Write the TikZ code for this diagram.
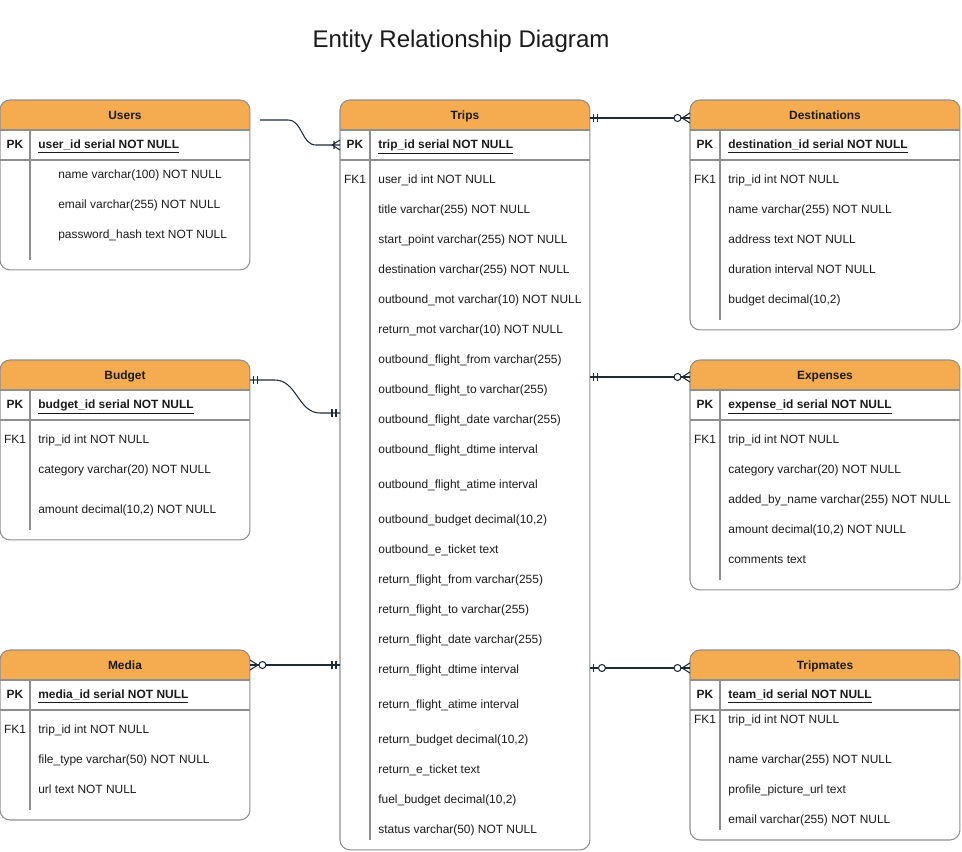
\documentclass[tikz,border=0pt]{standalone}
\usepackage{fontspec}
\setmainfont{Liberation Sans}
\usetikzlibrary{calc,decorations.markings}
\definecolor{hdrorange}{HTML}{F5AC50}
\definecolor{boxgray}{HTML}{8E8E8E}
\definecolor{linkcol}{HTML}{1E2A36}
\definecolor{inkcol}{HTML}{1A1A1A}
\tikzset{
entitybox/.style={draw=boxgray,line width=.6pt,fill=white,rounded corners=.2cm,anchor=north west,inner sep=0pt,outer sep=0pt,
  path picture={
    \fill[hdrorange,sharp corners](path picture bounding box.north west) rectangle ([yshift=-.6cm]path picture bounding box.north east);
    \draw[boxgray,line width=.6pt]([yshift=-.6cm]path picture bounding box.north west)--([yshift=-.6cm]path picture bounding box.north east);
    \draw[boxgray,line width=.6pt]([yshift=-1.2cm]path picture bounding box.north west)--([yshift=-1.2cm]path picture bounding box.north east);
    \draw[boxgray,line width=.6pt]([xshift=.6cm,yshift=-.6cm]path picture bounding box.north west)--([xshift=.6cm,yshift=.2cm]path picture bounding box.south west);
  }},
headtext/.style={font=\bfseries\fontsize{6.8}{8}\selectfont,text=inkcol,inner sep=0pt,text height=1.6ex,text depth=.6ex},
pklabel/.style={font=\bfseries\fontsize{6.8}{8}\selectfont,text=inkcol,inner sep=0pt,text height=1.6ex,text depth=.95ex},
fklabel/.style={font=\fontsize{6.8}{8}\selectfont,text=inkcol,inner sep=0pt,text height=1.6ex,text depth=.95ex},
keytext/.style={font=\bfseries\fontsize{6.8}{8}\selectfont,text=inkcol,anchor=west,inner sep=0pt,text height=1.6ex,text depth=.95ex},
attr/.style={font=\fontsize{6.8}{8}\selectfont,text=inkcol,anchor=west,inner sep=0pt,text height=1.6ex,text depth=.95ex},
rel/.style={draw=linkcol,line width=.6pt},
mandone start/.style={postaction={decorate,decoration={markings,mark=at position 0 with {\draw[linkcol,line width=.6pt](4,-4)--(4,4)(8,-4)--(8,4);}}}},
mandone end/.style={postaction={decorate,decoration={markings,mark=at position 1 with {\draw[linkcol,line width=.6pt](-4,-4)--(-4,4)(-8,-4)--(-8,4);}}}},
zeromany start/.style={postaction={decorate,decoration={markings,mark=at position 0 with {\draw[linkcol,line width=.6pt](8,0)--(0,5)(8,0)--(0,-5);\draw[linkcol,line width=.6pt,fill=white](12.5,0)circle[radius=.07cm];}}}},
zeromany end/.style={postaction={decorate,decoration={markings,mark=at position 1 with {\draw[linkcol,line width=.6pt](-8,0)--(0,5)(-8,0)--(0,-5);\draw[linkcol,line width=.6pt,fill=white](-12.5,0)circle[radius=.07cm];}}}},
zeroone start/.style={postaction={decorate,decoration={markings,mark=at position 0 with {\draw[linkcol,line width=.6pt](4,-4)--(4,4);\draw[linkcol,line width=.6pt,fill=white](12,0)circle[radius=.07cm];}}}},
onemany end/.style={postaction={decorate,decoration={markings,mark=at position 1 with {\draw[linkcol,line width=.6pt](-8,0)--(0,5)(-8,0)--(0,-5)(-6,-4)--(-6,4);}}}}
}
\begin{document}
\begin{tikzpicture}[x=.02cm,y=-.02cm]
\useasboundingbox (0,0) rectangle (962,851);
\node[font=\fontsize{13.7}{16}\selectfont,text=inkcol](title) at (461,41){Entity Relationship Diagram};
% tables
\node[entitybox,minimum width=5cm,minimum height=3.4cm](users) at (0,100){};
\node[entitybox,minimum width=5cm,minimum height=15cm](trips) at (340,100){};
\node[entitybox,minimum width=5.4cm,minimum height=4.6cm](dest) at (690,100){};
\node[entitybox,minimum width=5cm,minimum height=3.6cm](budget) at (0,360){};
\node[entitybox,minimum width=5.4cm,minimum height=4.6cm](expenses) at (690,360){};
\node[entitybox,minimum width=5cm,minimum height=3.4cm](media) at (0,650){};
\node[entitybox,minimum width=5.4cm,minimum height=3.8cm](mates) at (690,650){};
% users
\node[headtext](usersT) at ($(users.north)+(0,15)$){Users};
\node[pklabel](usersPK) at ($(users.north west)+(15,45)$){PK};
\node[keytext](usersK) at ($(users.north west)+(38,45)$){\underline{user\_id serial NOT NULL}};
\foreach \y/\t [count=\i] in {75/name varchar(100) NOT NULL,105/email varchar(255) NOT NULL,135/password\_hash text NOT NULL}
  \node[attr](users-\i) at ($(users.north west)+(58,\y)$){\t};
% trips
\node[headtext](tripsT) at ($(trips.north)+(0,15)$){Trips};
\node[pklabel](tripsPK) at ($(trips.north west)+(15,45)$){PK};
\node[keytext](tripsK) at ($(trips.north west)+(38,45)$){\underline{trip\_id serial NOT NULL}};
\node[fklabel](tripsFK) at ($(trips.north west)+(15,80)$){FK1};
\foreach \y/\t [count=\i] in {80/user\_id int NOT NULL,110/title varchar(255) NOT NULL,140/start\_point varchar(255) NOT NULL,
  170/destination varchar(255) NOT NULL,200/outbound\_mot varchar(10) NOT NULL,230/return\_mot varchar(10) NOT NULL,
  260/outbound\_flight\_from varchar(255),290/outbound\_flight\_to varchar(255),320/outbound\_flight\_date varchar(255),
  350/outbound\_flight\_dtime interval,385/outbound\_flight\_atime interval,420/{outbound\_budget decimal(10,2)},
  450/outbound\_e\_ticket text,480/return\_flight\_from varchar(255),510/return\_flight\_to varchar(255),
  540/return\_flight\_date varchar(255),570/return\_flight\_dtime interval,605/return\_flight\_atime interval,
  640/{return\_budget decimal(10,2)},670/return\_e\_ticket text,700/{fuel\_budget decimal(10,2)},730/status varchar(50) NOT NULL}
  \node[attr](trips-\i) at ($(trips.north west)+(38,\y)$){\t};
% destinations
\node[headtext](destT) at ($(dest.north)+(0,15)$){Destinations};
\node[pklabel](destPK) at ($(dest.north west)+(15,45)$){PK};
\node[keytext](destK) at ($(dest.north west)+(38,45)$){\underline{destination\_id serial NOT NULL}};
\node[fklabel](destFK) at ($(dest.north west)+(15,80)$){FK1};
\foreach \y/\t [count=\i] in {80/trip\_id int NOT NULL,110/name varchar(255) NOT NULL,140/address text NOT NULL,
  170/duration interval NOT NULL,200/{budget decimal(10,2)}}
  \node[attr](dest-\i) at ($(dest.north west)+(38,\y)$){\t};
% budget
\node[headtext](budgetT) at ($(budget.north)+(0,15)$){Budget};
\node[pklabel](budgetPK) at ($(budget.north west)+(15,45)$){PK};
\node[keytext](budgetK) at ($(budget.north west)+(38,45)$){\underline{budget\_id serial NOT NULL}};
\node[fklabel](budgetFK) at ($(budget.north west)+(15,80)$){FK1};
\foreach \y/\t [count=\i] in {80/trip\_id int NOT NULL,110/category varchar(20) NOT NULL,150/{amount decimal(10,2) NOT NULL}}
  \node[attr](budget-\i) at ($(budget.north west)+(38,\y)$){\t};
% expenses
\node[headtext](expensesT) at ($(expenses.north)+(0,15)$){Expenses};
\node[pklabel](expensesPK) at ($(expenses.north west)+(15,45)$){PK};
\node[keytext](expensesK) at ($(expenses.north west)+(38,45)$){\underline{expense\_id serial NOT NULL}};
\node[fklabel](expensesFK) at ($(expenses.north west)+(15,80)$){FK1};
\foreach \y/\t [count=\i] in {80/trip\_id int NOT NULL,110/category varchar(20) NOT NULL,
  140/added\_by\_name varchar(255) NOT NULL,170/{amount decimal(10,2) NOT NULL},200/comments text}
  \node[attr](expenses-\i) at ($(expenses.north west)+(38,\y)$){\t};
% media
\node[headtext](mediaT) at ($(media.north)+(0,15)$){Media};
\node[pklabel](mediaPK) at ($(media.north west)+(15,45)$){PK};
\node[keytext](mediaK) at ($(media.north west)+(38,45)$){\underline{media\_id serial NOT NULL}};
\node[fklabel](mediaFK) at ($(media.north west)+(15,80)$){FK1};
\foreach \y/\t [count=\i] in {80/trip\_id int NOT NULL,110/file\_type varchar(50) NOT NULL,140/url text NOT NULL}
  \node[attr](media-\i) at ($(media.north west)+(38,\y)$){\t};
% tripmates
\node[headtext](matesT) at ($(mates.north)+(0,15)$){Tripmates};
\node[pklabel](matesPK) at ($(mates.north west)+(15,45)$){PK};
\node[keytext](matesK) at ($(mates.north west)+(38,45)$){\underline{team\_id serial NOT NULL}};
\node[fklabel](matesFK) at ($(mates.north west)+(15,70)$){FK1};
\foreach \y/\t [count=\i] in {70/trip\_id int NOT NULL,110/name varchar(255) NOT NULL,140/profile\_picture\_url text,
  170/email varchar(255) NOT NULL}
  \node[attr](mates-\i) at ($(mates.north west)+(38,\y)$){\t};
% relations
\coordinate (usersout) at ($(users.north east)+(10,20)$);
\draw[rel,onemany end](usersout)--++(28,0) to[out=0,in=180] ($(trips.west|-tripsPK)+(-24,0)$)--(trips.west|-tripsPK);
\draw[rel,mandone start,zeromany end]($(trips.east|-destT)+(0,3)$)--($(dest.west|-destT)+(0,3)$);
\draw[rel,mandone start,mandone end]($(budget.north east)+(0,20)$)--++(25,0) to[out=0,in=180] ($(trips.north west)+(-20,313)$)--($(trips.north west)+(0,313)$);
\draw[rel,mandone start,zeromany end]($(trips.east|-expensesT)+(0,2)$)--($(expenses.west|-expensesT)+(0,2)$);
\draw[rel,zeromany start,mandone end](media.east|-mediaT)--(trips.west|-mediaT);
\draw[rel,zeroone start,zeromany end]($(trips.east|-matesT)+(0,3)$)--($(mates.west|-matesT)+(0,3)$);
\end{tikzpicture}
\end{document}
